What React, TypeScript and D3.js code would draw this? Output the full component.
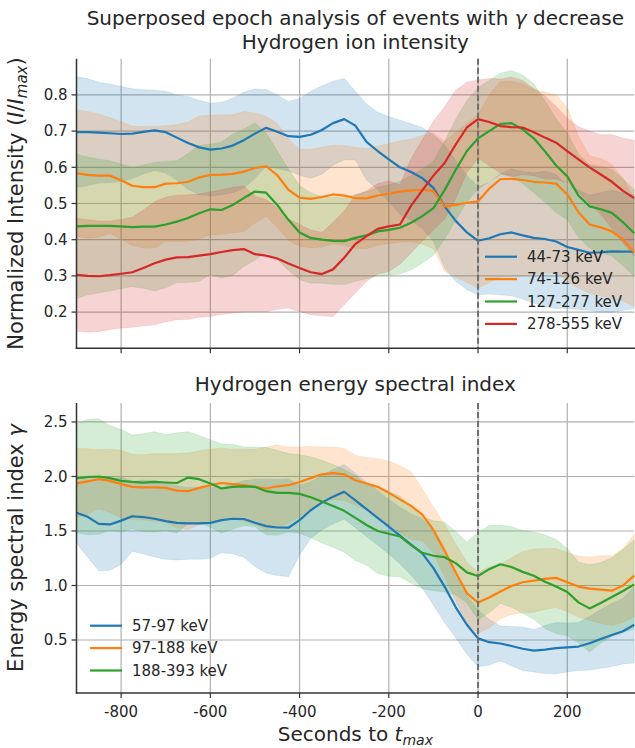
import React from "react";
import * as d3 from "d3";

// Time grid relative to t_max (s)
const seconds = [
  -900, -875, -850, -825, -800, -775, -750, -725, -700, -675,
  -650, -625, -600, -575, -550, -525, -500, -475, -450, -425,
  -400, -375, -350, -325, -300, -275, -250, -225, -200, -175,
  -150, -125, -100, -75, -50, -25, 0, 25, 50, 75,
  100, 125, 150, 175, 200, 225, 250, 275, 300, 325, 350,
];

// ---- Hydrogen ion intensity (normalized) ----
const intensityLabels = ["44-73 keV", "74-126 keV", "127-277 keV", "278-555 keV"];

const int44Mean = [
  0.697, 0.697, 0.696, 0.694, 0.692, 0.693, 0.698, 0.702, 0.697, 0.682,
  0.667, 0.655, 0.649, 0.652, 0.660, 0.675, 0.693, 0.709, 0.698, 0.686,
  0.684, 0.690, 0.703, 0.722, 0.733, 0.715, 0.670, 0.645, 0.622, 0.600,
  0.587, 0.570, 0.543, 0.492, 0.452, 0.420, 0.397, 0.404, 0.415, 0.420,
  0.412, 0.405, 0.402, 0.395, 0.380, 0.372, 0.364, 0.365, 0.368, 0.367, 0.367,
];
const int44Std = [
  0.153, 0.148, 0.139, 0.136, 0.131, 0.124, 0.116, 0.111, 0.113, 0.118,
  0.128, 0.130, 0.128, 0.128, 0.130, 0.133, 0.123, 0.106, 0.102, 0.096,
  0.106, 0.120, 0.122, 0.116, 0.112, 0.095, 0.105, 0.107, 0.118, 0.130,
  0.133, 0.140, 0.147, 0.170, 0.167, 0.158, 0.149, 0.154, 0.167, 0.175,
  0.176, 0.180, 0.187, 0.185, 0.170, 0.165, 0.159, 0.165, 0.168, 0.162, 0.157,
];

const int74Mean = [
  0.584, 0.579, 0.577, 0.577, 0.564, 0.549, 0.545, 0.545, 0.555, 0.556,
  0.560, 0.572, 0.579, 0.580, 0.582, 0.588, 0.598, 0.603, 0.578, 0.538,
  0.516, 0.513, 0.518, 0.525, 0.522, 0.515, 0.514, 0.522, 0.527, 0.533,
  0.536, 0.538, 0.535, 0.492, 0.496, 0.502, 0.506, 0.541, 0.567, 0.568,
  0.565, 0.560, 0.558, 0.555, 0.525, 0.476, 0.442, 0.434, 0.423, 0.400, 0.365,
];
const int74Std = [
  0.175, 0.175, 0.170, 0.160, 0.162, 0.165, 0.168, 0.168, 0.160, 0.162,
  0.165, 0.170, 0.165, 0.165, 0.163, 0.166, 0.152, 0.138, 0.144, 0.140,
  0.134, 0.136, 0.138, 0.136, 0.138, 0.140, 0.138, 0.137, 0.138, 0.140,
  0.142, 0.150, 0.160, 0.180, 0.200, 0.220, 0.240, 0.260, 0.270, 0.270,
  0.265, 0.255, 0.250, 0.245, 0.240, 0.210, 0.190, 0.190, 0.185, 0.170, 0.150,
];

const int127Mean = [
  0.437, 0.438, 0.438, 0.438, 0.437, 0.435, 0.436, 0.436, 0.442, 0.450,
  0.460, 0.473, 0.484, 0.482, 0.496, 0.515, 0.533, 0.530, 0.496, 0.455,
  0.420, 0.405, 0.400, 0.397, 0.396, 0.405, 0.412, 0.423, 0.427, 0.433,
  0.447, 0.465, 0.487, 0.537, 0.593, 0.645, 0.680, 0.700, 0.720, 0.722,
  0.705, 0.680, 0.644, 0.605, 0.575, 0.522, 0.492, 0.484, 0.474, 0.448, 0.418,
];
const int127Std = [
  0.200, 0.190, 0.185, 0.180, 0.172, 0.165, 0.170, 0.178, 0.175, 0.168,
  0.178, 0.188, 0.180, 0.188, 0.195, 0.190, 0.190, 0.165, 0.150, 0.140,
  0.130, 0.125, 0.120, 0.120, 0.120, 0.120, 0.120, 0.122, 0.125, 0.128,
  0.130, 0.130, 0.130, 0.135, 0.140, 0.140, 0.140, 0.140, 0.140, 0.145,
  0.150, 0.150, 0.140, 0.130, 0.120, 0.115, 0.115, 0.118, 0.120, 0.120, 0.120,
];

const int278Mean = [
  0.303, 0.300, 0.299, 0.302, 0.306, 0.310, 0.322, 0.335, 0.345, 0.351,
  0.352, 0.356, 0.360, 0.366, 0.371, 0.374, 0.360, 0.356, 0.348, 0.334,
  0.322, 0.310, 0.305, 0.318, 0.350, 0.388, 0.410, 0.430, 0.437, 0.442,
  0.494, 0.536, 0.577, 0.612, 0.663, 0.710, 0.733, 0.725, 0.714, 0.711,
  0.710, 0.697, 0.682, 0.668, 0.645, 0.622, 0.600, 0.580, 0.560, 0.535, 0.515,
];
const int278Std = [
  0.156, 0.155, 0.153, 0.150, 0.150, 0.152, 0.160, 0.170, 0.172, 0.172,
  0.172, 0.170, 0.172, 0.172, 0.174, 0.174, 0.160, 0.155, 0.140, 0.123,
  0.120, 0.117, 0.115, 0.130, 0.130, 0.135, 0.125, 0.125, 0.125, 0.110,
  0.130, 0.140, 0.150, 0.155, 0.150, 0.125, 0.108, 0.120, 0.130, 0.138,
  0.130, 0.120, 0.115, 0.100, 0.090, 0.090, 0.100, 0.110, 0.130, 0.145, 0.160,
];

// ---- Hydrogen energy spectral index ----
const gammaLabels = ["57-97 keV", "97-188 keV", "188-393 keV"];

const gam57Mean = [
  1.668, 1.630, 1.565, 1.560, 1.595, 1.635, 1.628, 1.612, 1.590, 1.575,
  1.570, 1.570, 1.575, 1.600, 1.612, 1.610, 1.575, 1.545, 1.532, 1.530,
  1.600, 1.690, 1.760, 1.815, 1.860, 1.780, 1.700, 1.620, 1.540, 1.457,
  1.375, 1.294, 1.160, 0.990, 0.800, 0.640, 0.515, 0.480, 0.468, 0.445,
  0.420, 0.402, 0.412, 0.425, 0.432, 0.440, 0.470, 0.510, 0.546, 0.580, 0.640,
];
const gam57Std = [
  0.280, 0.370, 0.430, 0.420, 0.400, 0.320, 0.340, 0.350, 0.350, 0.340,
  0.330, 0.330, 0.325, 0.300, 0.320, 0.350, 0.400, 0.430, 0.440, 0.450,
  0.320, 0.260, 0.250, 0.250, 0.250, 0.250, 0.250, 0.250, 0.250, 0.260,
  0.280, 0.320, 0.340, 0.330, 0.280, 0.270, 0.260, 0.210, 0.160, 0.180,
  0.200, 0.195, 0.220, 0.235, 0.225, 0.220, 0.245, 0.270, 0.290, 0.300, 0.350,
];

const gam97Mean = [
  1.937, 1.955, 1.975, 1.960, 1.930, 1.905, 1.900, 1.900, 1.895, 1.870,
  1.865, 1.895, 1.920, 1.940, 1.930, 1.920, 1.905, 1.890, 1.910, 1.920,
  1.950, 1.985, 2.020, 2.030, 2.020, 1.965, 1.935, 1.905, 1.850, 1.790,
  1.730, 1.650, 1.510, 1.320, 1.120, 0.930, 0.843, 0.890, 0.945, 0.995,
  1.030, 1.045, 1.060, 1.070, 1.030, 0.990, 0.972, 0.962, 0.953, 1.000, 1.090,
];
const gam97Std = [
  0.320, 0.300, 0.270, 0.290, 0.310, 0.300, 0.300, 0.310, 0.315, 0.340,
  0.350, 0.340, 0.330, 0.320, 0.320, 0.330, 0.345, 0.380, 0.380, 0.350,
  0.320, 0.290, 0.250, 0.240, 0.240, 0.230, 0.240, 0.260, 0.290, 0.310,
  0.310, 0.240, 0.210, 0.240, 0.260, 0.280, 0.280, 0.280, 0.250, 0.260,
  0.280, 0.290, 0.280, 0.270, 0.270, 0.280, 0.290, 0.310, 0.320, 0.340, 0.380,
];

const gam188Mean = [
  1.983, 1.995, 2.000, 1.985, 1.960, 1.950, 1.943, 1.950, 1.945, 1.940,
  1.990, 1.975, 1.935, 1.890, 1.905, 1.910, 1.905, 1.865, 1.850, 1.850,
  1.840, 1.810, 1.770, 1.730, 1.685, 1.620, 1.555, 1.500, 1.475, 1.450,
  1.370, 1.300, 1.273, 1.260, 1.205, 1.120, 1.087, 1.150, 1.195, 1.170,
  1.125, 1.090, 1.035, 0.990, 0.940, 0.845, 0.790, 0.840, 0.895, 0.950, 1.010,
];
const gam188Std = [
  0.500, 0.530, 0.530, 0.480, 0.470, 0.430, 0.450, 0.460, 0.440, 0.460,
  0.420, 0.400, 0.400, 0.410, 0.390, 0.360, 0.365, 0.400, 0.390, 0.360,
  0.360, 0.370, 0.380, 0.380, 0.380, 0.390, 0.370, 0.390, 0.390, 0.370,
  0.350, 0.330, 0.320, 0.320, 0.290, 0.280, 0.400, 0.400, 0.360, 0.370,
  0.380, 0.400, 0.430, 0.430, 0.400, 0.370, 0.400, 0.370, 0.360, 0.380, 0.410,
];

const xTicks = [-800, -600, -400, -200, 0, 200];
const intensityTicks = [0.2, 0.3, 0.4, 0.5, 0.6, 0.7, 0.8];
const gammaTicks = [0.5, 1.0, 1.5, 2.0, 2.5];

const palette = ["#1f77b4", "#ff7f0e", "#2ca02c", "#d62728"];

const W = 635;
const H = 748;
const FONT = "'DejaVu Sans', sans-serif";
const TEXT = "#262626";
const TICK_SIZE = 15;
const TITLE_SIZE = 20;
const LABEL_SIZE = 21;

type Series = { label: string; mean: number[]; std: number[]; color: string };

const intensitySeries: Series[] = [
  { label: intensityLabels[0], mean: int44Mean, std: int44Std, color: palette[0] },
  { label: intensityLabels[1], mean: int74Mean, std: int74Std, color: palette[1] },
  { label: intensityLabels[2], mean: int127Mean, std: int127Std, color: palette[2] },
  { label: intensityLabels[3], mean: int278Mean, std: int278Std, color: palette[3] },
];
const gammaSeries: Series[] = [
  { label: gammaLabels[0], mean: gam57Mean, std: gam57Std, color: palette[0] },
  { label: gammaLabels[1], mean: gam97Mean, std: gam97Std, color: palette[1] },
  { label: gammaLabels[2], mean: gam188Mean, std: gam188Std, color: palette[2] },
];

const x = d3.scaleLinear().domain([-900, 350]).range([76.5, 634.2]);

type PanelProps = {
  series: Series[];
  y: d3.ScaleLinear<number, number>;
  yTicks: number[];
  legendX: number;
  legendY: number;
};

function Panel({ series, y, yTicks, legendX, legendY }: PanelProps) {
  const [left, right] = x.range();
  const [bottom, top] = y.range();
  const idx = seconds.map((_, i) => i);
  return (
    <g>
      {/* grid */}
      {xTicks.map((t) => (
        <line key={"gx" + t} x1={x(t)} x2={x(t)} y1={top} y2={bottom} stroke="#b0b0b0" strokeWidth={1.2} />
      ))}
      {yTicks.map((v) => (
        <line key={"gy" + v} x1={left} x2={right} y1={y(v)} y2={y(v)} stroke="#b0b0b0" strokeWidth={1.2} />
      ))}
      {/* mean ± std bands */}
      {series.map((s) => {
        const area = d3
          .area<number>()
          .x((i) => x(seconds[i]))
          .y0((i) => y(s.mean[i] - s.std[i]))
          .y1((i) => y(s.mean[i] + s.std[i]));
        return (
          <path
            key={"a" + s.label}
            d={area(idx) || ""}
            fill={s.color}
            fillOpacity={0.2}
            stroke={s.color}
            strokeOpacity={0.15}
            strokeWidth={0.8}
          />
        );
      })}
      {/* mean curves */}
      {series.map((s) => {
        const line = d3
          .line<number>()
          .x((i) => x(seconds[i]))
          .y((i) => y(s.mean[i]));
        return (
          <path
            key={"l" + s.label}
            d={line(idx) || ""}
            fill="none"
            stroke={s.color}
            strokeWidth={2.2}
            strokeLinejoin="round"
          />
        );
      })}
      {/* t_max marker */}
      <line x1={x(0)} x2={x(0)} y1={top} y2={bottom} stroke="#6f6f6f" strokeWidth={2} strokeDasharray="6,3" />
      {/* axes */}
      <line x1={left} x2={left} y1={top} y2={bottom + 0.75} stroke="#333" strokeWidth={1.5} />
      <line x1={left - 0.75} x2={right + 2} y1={bottom} y2={bottom} stroke="#333" strokeWidth={1.5} />
      {yTicks.map((v) => (
        <g key={"ty" + v}>
          <line x1={left - 5} x2={left} y1={y(v)} y2={y(v)} stroke="#333" strokeWidth={1.2} />
          <text x={left - 9} y={y(v) + 5.3} textAnchor="end" fontSize={TICK_SIZE} fill={TEXT} fontFamily={FONT}>
            {v.toFixed(1)}
          </text>
        </g>
      ))}
      {xTicks.map((t) => (
        <line key={"tx" + t} x1={x(t)} x2={x(t)} y1={bottom} y2={bottom + 5} stroke="#333" strokeWidth={1.2} />
      ))}
      {/* legend */}
      {series.map((s, i) => (
        <g key={"lg" + s.label} transform={`translate(${legendX},${legendY + i * 22.4})`}>
          <line x1={0} x2={32} y1={0} y2={0} stroke={s.color} strokeWidth={2.2} />
          <text x={42} y={5.3} fontSize={15} fill={TEXT} fontFamily={FONT}>
            {s.label}
          </text>
        </g>
      ))}
    </g>
  );
}

export default function App() {
  const yTop = d3.scaleLinear().domain([0.1, 0.9]).range([348.3, 58.7]);
  const yBot = d3.scaleLinear().domain([0.014, 2.674]).range([693, 403]);
  const cx = (x.range()[0] + x.range()[1]) / 2;
  return (
    <svg width={W} height={H} style={{ position: "absolute", left: 0, top: 0, background: "#fff" }}>
      <rect x={0} y={0} width={W} height={H} fill="#fff" />
      <text x={cx} y={25} textAnchor="middle" fontSize={TITLE_SIZE} fill={TEXT} fontFamily={FONT}>
        Superposed epoch analysis of events with <tspan fontStyle="italic">γ</tspan> decrease
      </text>
      <text x={cx} y={49} textAnchor="middle" fontSize={TITLE_SIZE} fill={TEXT} fontFamily={FONT}>
        Hydrogen ion intensity
      </text>
      <Panel series={intensitySeries} y={yTop} yTicks={intensityTicks} legendX={485} legendY={256.7} />
      <text x={cx} y={391} textAnchor="middle" fontSize={TITLE_SIZE} fill={TEXT} fontFamily={FONT}>
        Hydrogen energy spectral index
      </text>
      <Panel series={gammaSeries} y={yBot} yTicks={gammaTicks} legendX={90} legendY={625.7} />
      {xTicks.map((t) => (
        <text key={"xl" + t} x={x(t)} y={717} textAnchor="middle" fontSize={TICK_SIZE} fill={TEXT} fontFamily={FONT}>
          {t}
        </text>
      ))}
      <text x={cx} y={741} textAnchor="middle" fontSize={TITLE_SIZE} fill={TEXT} fontFamily={FONT}>
        Seconds to <tspan fontStyle="italic">t</tspan>
        <tspan fontStyle="italic" fontSize={14} dy={4}>max</tspan>
      </text>
      <text
        transform={`translate(23,${(58.7 + 348.3) / 2}) rotate(-90)`}
        textAnchor="middle"
        fontSize={LABEL_SIZE}
        fill={TEXT}
        fontFamily={FONT}
      >
        Normalized Intensity (<tspan fontStyle="italic">I</tspan>/<tspan fontStyle="italic">I</tspan>
        <tspan fontStyle="italic" fontSize={15} dy={4}>max</tspan>
        <tspan dy={-4}>)</tspan>
      </text>
      <text
        transform={`translate(23,${(403 + 693) / 2}) rotate(-90)`}
        textAnchor="middle"
        fontSize={LABEL_SIZE}
        fill={TEXT}
        fontFamily={FONT}
      >
        Energy spectral index <tspan fontStyle="italic">γ</tspan>
      </text>
    </svg>
  );
}
